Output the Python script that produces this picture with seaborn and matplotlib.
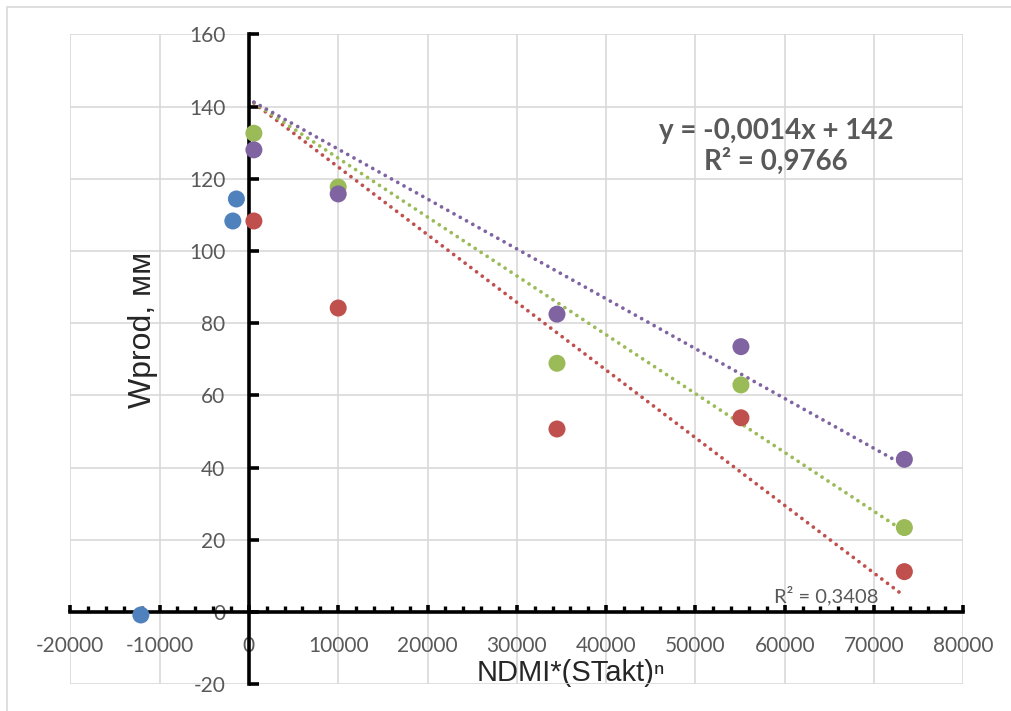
import numpy as np
import pandas as pd
import seaborn as sns
import matplotlib.pyplot as plt
from matplotlib.patches import Rectangle
from matplotlib.ticker import MultipleLocator

# data
x_blue = [-1400, -1800, -12100]
y_blue = [114.4, 108.3, -0.8]

x_main = [560, 10000, 34500, 55100, 73400]
y_red = [108.3, 84.2, 50.7, 53.8, 11.2]
y_green = [132.6, 117.7, 68.9, 62.9, 23.4]
y_purple = [128.0, 115.8, 82.5, 73.5, 42.3]

trend_intercept = 142  # trendlines use a fixed intercept
eq_text = "y = -0,0014x + 142\nR² = 0,9766"
r2_red_text = "R² = 0,3408"

colors = {"blue": "#4F81BD", "red": "#C0504D", "green": "#9BBB59", "purple": "#8064A2"}

frames = [pd.DataFrame({"x": x_blue, "y": y_blue, "s": "blue"})]
for name, ys in [("red", y_red), ("green", y_green), ("purple", y_purple)]:
    frames.append(pd.DataFrame({"x": x_main, "y": ys, "s": name}))
df = pd.concat(frames, ignore_index=True)

sns.set_style("white")
plt.rcParams['font.family'] = ['Lato', 'DejaVu Sans']
plt.rcParams['axes.unicode_minus'] = False

fig = plt.figure(figsize=(10.12, 7.11), dpi=100)
ax = fig.add_axes([70.3 / 1012, 1 - 684.3 / 711, 893 / 1012, 650 / 711])

# outer chart frame
fig.patches.append(Rectangle((7 / 1012, -0.5), 2, 1.5 - 6.5 / 711, transform=fig.transFigure,
                             fill=False, edgecolor="#D9D9D9", linewidth=1.2, zorder=0))

# trendlines (fixed intercept)
for name, ys in [("red", y_red), ("green", y_green), ("purple", y_purple)]:
    xa = np.array(x_main, dtype=float)
    ya = np.array(ys, dtype=float)
    slope = np.sum(xa * (ya - trend_intercept)) / np.sum(xa ** 2)
    xs = np.array([xa.min(), xa.max()])
    sns.lineplot(x=xs, y=trend_intercept + slope * xs, ax=ax, color=colors[name],
                 linewidth=2.7, linestyle=(0, (0.01, 1.9)), dash_capstyle="round",
                 solid_capstyle="round", zorder=2)

sns.scatterplot(data=df, x="x", y="y", hue="s", palette=colors, s=150,
                edgecolor="none", legend=False, ax=ax, zorder=3)

ax.set_xlim(-20000, 80000)
ax.set_ylim(-20, 160)
ax.xaxis.set_major_locator(MultipleLocator(10000))
ax.xaxis.set_minor_locator(MultipleLocator(2000))
ax.yaxis.set_major_locator(MultipleLocator(20))
ax.grid(True, which="major", color="#D9D9D9", linewidth=1.2)
ax.set_axisbelow(True)

for side in ["top", "right"]:
    ax.spines[side].set_visible(False)
ax.spines["left"].set_position(("data", 0))
ax.spines["bottom"].set_position(("data", 0))
for side in ["left", "bottom"]:
    ax.spines[side].set_linewidth(2.6)
    ax.spines[side].set_color("black")
    ax.spines[side].set_zorder(2.5)

ax.tick_params(axis="x", which="major", bottom=True, direction="in", length=5, width=2.6,
               color="black", pad=17, labelsize=15, labelcolor="#595959")
ax.tick_params(axis="x", which="minor", bottom=True, direction="in", length=4, width=2.4,
               color="black")
ax.tick_params(axis="y", which="major", left=True, direction="in", length=7, width=2.6,
               color="black", pad=17, labelsize=15, labelcolor="#595959")

ax.set_xlabel("NDMI*(STakt)ⁿ", fontsize=21, family=["Liberation Sans", "DejaVu Sans"])
ax.set_ylabel("Wprod, мм", fontsize=23, family=["Liberation Sans", "DejaVu Sans"])
ax.xaxis.label.set_va("center")
ax.yaxis.label.set_va("center")
ax.xaxis.set_label_coords(0.5607, 0.017)
ax.yaxis.set_label_coords(0.0814, 0.545)

ax.text(59000, 129, eq_text, ha="center", va="center", fontsize=20,
        fontweight="bold", color="#595959", linespacing=1.15)
ax.text(64600, 4.5, r2_red_text, ha="center", va="center", fontsize=14.5, color="#595959")

fig.savefig("out.png", dpi=100)
